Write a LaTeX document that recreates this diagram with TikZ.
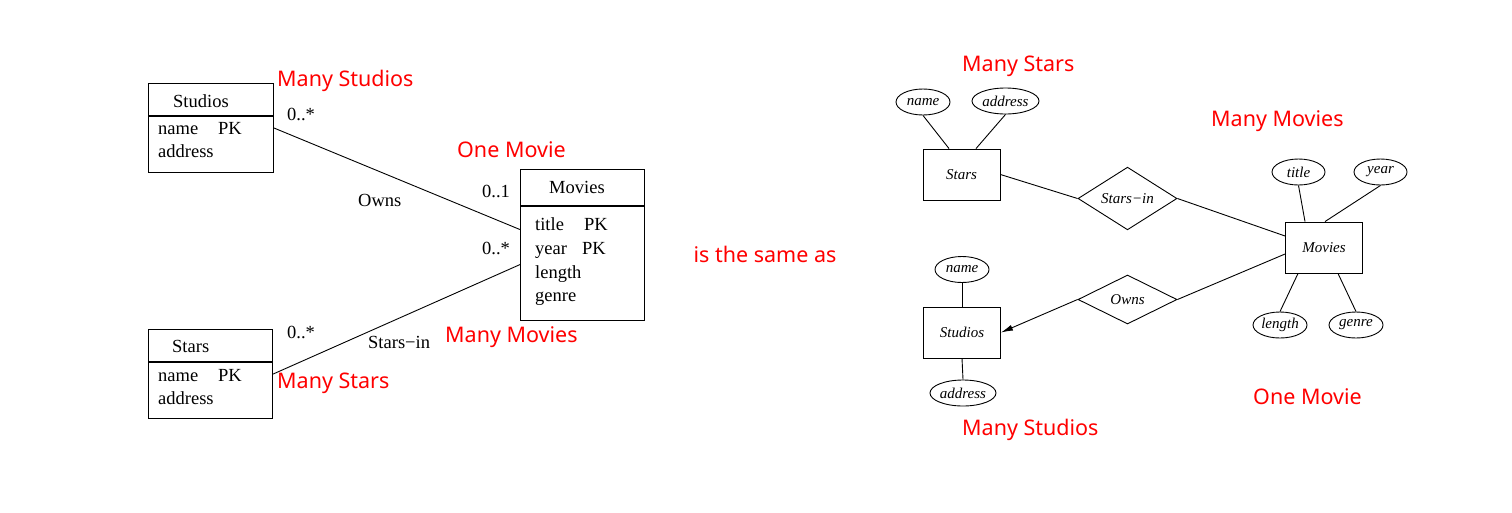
\documentclass[tikz,border=0pt]{standalone}
\usepackage{fontspec}
\setmainfont{Liberation Serif}
\newfontfamily\redfont{Noto Sans}
\usetikzlibrary{shapes.geometric,arrows.meta}
\begin{document}
\begin{tikzpicture}[x=1pt,y=-1pt,
  umlbox/.style={draw, line width=1.1pt, anchor=north west, inner sep=0pt},
  umltxt/.style={font=\fontsize{18.5}{20}\selectfont, inner sep=0pt, anchor=base west},
  link/.style={line width=0.9pt},
  redtxt/.style={font=\redfont\fontsize{21.5}{24}\selectfont, text=red, inner sep=0pt, anchor=base west},
  entity/.style={draw, line width=0.9pt, minimum width=77pt, minimum height=51pt, inner sep=0pt, font=\itshape\fontsize{15}{16}\selectfont},
  attr/.style={draw, ellipse, line width=0.9pt, minimum height=26pt, inner sep=0pt, font=\itshape\fontsize{15}{16}\selectfont},
  rel/.style={draw, diamond, line width=0.9pt, minimum width=99pt, minimum height=49pt, inner sep=0pt, font=\itshape\fontsize{15}{16}\selectfont}
]
\useasboundingbox[fill=white] (0,0) rectangle (1512,512);

% ---------------- UML (left) ----------------
\node[umlbox, minimum width=125pt, minimum height=89pt] (studios) at (148,83) {};
\draw[line width=1.1pt] ([yshift=-33pt]studios.north west) -- ([yshift=-33pt]studios.north east);
\node[umlbox, minimum width=124pt, minimum height=89pt] (stars) at (148,329) {};
\draw[line width=1.1pt] ([yshift=-33pt]stars.north west) -- ([yshift=-33pt]stars.north east);
\node[umlbox, minimum width=124pt, minimum height=151pt] (movies) at (520,169) {};
\draw[line width=1.1pt] ([yshift=-37pt]movies.north west) -- ([yshift=-37pt]movies.north east);

\node[umltxt] (studiosT) at (173,107) {Studios};
\node[umltxt] (studiosA1) at (158,134) {name};
\node[umltxt] (studiosA1k) at (218,134) {PK};
\node[umltxt] (studiosA2) at (158,157) {address};

\node[umltxt] (starsT) at (172,352) {Stars};
\node[umltxt] (starsA1) at (158,381) {name};
\node[umltxt] (starsA1k) at (218,381) {PK};
\node[umltxt] (starsA2) at (158,404) {address};

\node[umltxt] (moviesT) at (549,193) {Movies};
\node[umltxt] (moviesA1) at (535,230) {title};
\node[umltxt] (moviesA1k) at (584,230) {PK};
\node[umltxt] (moviesA2) at (535,254) {year};
\node[umltxt] (moviesA2k) at (582,254) {PK};
\node[umltxt] (moviesA3) at (535,278) {length};
\node[umltxt] (moviesA4) at (535,301) {genre};

\draw[link] (studios.east) -- ([yshift=15.5pt]movies.west);
\draw[link] (stars.east) -- ([yshift=-19.5pt]movies.west);

\node[umltxt] (m1) at (287,120) {0..*};
\node[umltxt] (m2) at (482,197) {0..1};
\node[umltxt] (ownsL) at (358,206) {Owns};
\node[umltxt] (m3) at (482,254) {0..*};
\node[umltxt] (m4) at (287,338) {0..*};
\node[umltxt] (starsinL) at (368,348) {Stars−in};

\node[redtxt] (r1) at (277,86) {Many Studios};
\node[redtxt] (r2) at (457,157) {One Movie};
\node[redtxt] (r3) at (445,342) {Many Movies};
\node[redtxt] (r4) at (277,388) {Many Stars};

\node[redtxt, anchor=base] (same) at (765,262) {is the same as};

% ---------------- ER (right) ----------------
\node[entity] (eStars) at (961.5,174.5) {Stars};
\node[entity] (eMovies) at (1324,247.5) {Movies};
\node[entity] (eStudios) at (962,332.5) {Studios};

\node[rel] (rStarsIn) at (1127.5,198.5) {Stars−in};
\node[rel] (rOwns) at (1127.5,299.5) {Owns};

\node[attr, minimum width=54pt] (aSName) at (923,102) {name};
\node[attr, minimum width=67pt] (aSAddr) at (1005.5,101) {address};
\node[attr, minimum width=53pt] (aMTitle) at (1298.5,172) {title};
\node[attr, minimum width=53pt] (aMYear) at (1380.5,172) {year};
\node[attr, minimum width=54pt] (aMLength) at (1280,325) {length};
\node[attr, minimum width=54pt] (aMGenre) at (1356,325) {genre};
\node[attr, minimum width=54pt] (aStName) at (962,269.5) {name};
\node[attr, minimum width=66pt] (aStAddr) at (963,393) {address};

\draw[link] (aSName.south) -- ([xshift=-12.5pt]eStars.north);
\draw[link] (aSAddr.south) -- ([xshift=14.5pt]eStars.north);
\draw[link] (aMTitle.south) -- ([xshift=-19pt]eMovies.north);
\draw[link] (aMYear.south) -- ([xshift=1pt]eMovies.north);
\draw[link] ([xshift=-26pt]eMovies.south) -- (aMLength.north);
\draw[link] ([xshift=14pt]eMovies.south) -- (aMGenre.north);
\draw[link] (aStName.south) -- (eStudios.north);
\draw[link] (eStudios.south) -- (aStAddr.north);

\draw[link] (eStars.east) -- (rStarsIn.west);
\draw[link] (rStarsIn.east) -- ([yshift=11.5pt]eMovies.west);
\draw[link] ([yshift=-6.5pt]eMovies.west) -- (rOwns.east);
\draw[link, -{Latex[length=12pt,width=6pt]}] (rOwns.west) -- (eStudios.east);

\node[redtxt] (r5) at (962,71) {Many Stars};
\node[redtxt] (r6) at (1211,126) {Many Movies};
\node[redtxt] (r7) at (1253,404) {One Movie};
\node[redtxt] (r8) at (962,435) {Many Studios};
\end{tikzpicture}
\end{document}
